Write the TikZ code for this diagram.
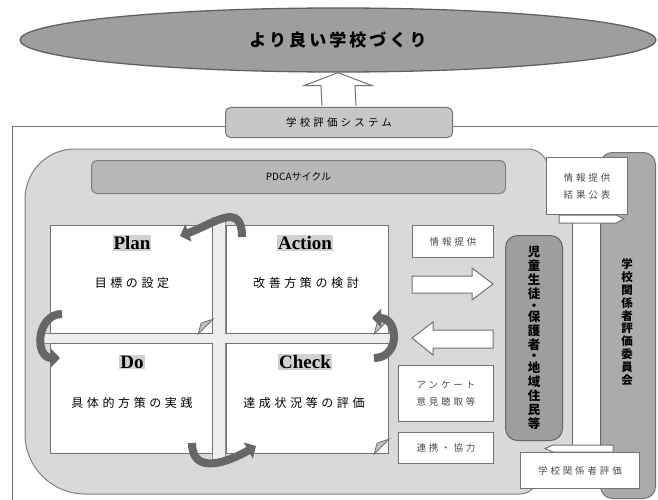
\documentclass[tikz,border=0pt]{standalone}
\usepackage{fontspec}
\setmainfont{Liberation Serif}
\newfontfamily\jp{Noto Sans CJK JP}
\newfontfamily\jpA[LetterSpace=18]{Noto Sans CJK JP}
\newfontfamily\jpB[LetterSpace=30]{Noto Sans CJK JP}
\usetikzlibrary{arrows.meta,calc,shapes.geometric}
\begin{document}
\begin{tikzpicture}[x=1pt,y=1pt,
  qbox/.style={draw=black!55, line width=1.1pt, fill=white, minimum width=162, minimum height=108, anchor=north west, inner sep=0},
  sbox/.style={draw=black!55, line width=1pt, fill=white, anchor=north west, inner sep=0, font=\jpB\fontsize{9.5}{17}\selectfont, text=black!70, align=center},
  elabel/.style={fill=black!18, inner sep=1pt, font=\bfseries\fontsize{19}{20}\selectfont},
  jlabel/.style={font=\jpB\fontsize{12}{14}\selectfont},
  hollow/.style={draw=black!55, line width=1pt, fill=white, line join=miter},
  cyc/.style={draw=black!60, line width=8pt, -{Triangle[length=9pt,width=18pt]}},
  fold/.style={draw=black!55, fill=black!25, line width=0.8pt},
]
\useasboundingbox (0,0) rectangle (658,-500);
% goal ellipse
\node[ellipse, draw=black!62, fill=black!38, line width=1.3pt, minimum width=636, minimum height=64, inner sep=0,
  font=\jpA\bfseries\fontsize{17}{20}\selectfont] (goal) at (338,-40) {より良い学校づくり};
% outer frame
\draw[draw=black!55, line width=1pt] (12,-127) rectangle (690,-530);
% big region
\draw[draw=black!50, line width=1pt, fill=black!15]
  (75,-149) -- (528,-149) to[out=0,in=90] (548,-169) -- (548,-200) -- (610,-200) -- (610,-470)
  -- (540,-470) to[out=-90,in=0] (520,-494) -- (85,-494) to[out=180,in=-90] (25,-434)
  -- (25,-199) to[out=90,in=180] (75,-149);
% system box
\node[draw=black!55, line width=1pt, fill=black!22, rounded corners=5, minimum width=227, minimum height=30,
  anchor=north west, inner sep=0, font=\jpB\fontsize{10.5}{12}\selectfont] (sys) at (225,-107) {学校評価システム};
\path (sys.north) coordinate (ua0) (goal.south) coordinate (ua1);
\draw[hollow] ($(ua0)+(-17,1)$) -- ($(ua1)+(-17,-13)$) -- ($(ua1)+(-34,-13)$) -- (ua1)
  -- ($(ua1)+(34,-13)$) -- ($(ua1)+(17,-13)$) -- ($(ua0)+(17,1)$);
% PDCA box
\node[draw=black!50, line width=1pt, fill=black!28, rounded corners=6, minimum width=414, minimum height=33,
  anchor=north west, inner sep=0, font=\jp\fontsize{10}{12}\selectfont] (pdca) at (91,-160) {PDCAサイクル};
% cross
\draw[draw=black!45, line width=0.9pt, fill=black!7]
  (212,-217) -- (225,-217) -- (225,-333) -- (394,-333) -- (394,-343) -- (225,-343) -- (225,-463)
  -- (212,-463) -- (212,-343) -- (40,-343) -- (40,-333) -- (212,-333) -- cycle;
% quadrants
\node[qbox] (plan) at (50,-225) {};
\node[qbox] (act) at (226,-225) {};
\node[qbox, minimum height=110] (do) at (50,-343) {};
\node[qbox, minimum height=110] (chk) at (226,-343) {};
\draw[fold] ($(plan.south east)+(-15,0)$) -- ($(plan.south east)+(0,15)$) -- ($(plan.south east)+(-12,11)$) -- cycle;
\draw[fold] ($(act.south east)+(-15,0)$) -- ($(act.south east)+(0,15)$) -- ($(act.south east)+(-12,11)$) -- cycle;
\draw[fold] ($(chk.south east)+(-15,0)$) -- ($(chk.south east)+(0,15)$) -- ($(chk.south east)+(-12,11)$) -- cycle;
\node[elabel] (planL) at (132,-243) {Plan};
\node[jlabel] (planJ) at (132,-283) {目標の設定};
\node[elabel] (actL) at (305,-243) {Action};
\node[jlabel] (actJ) at (306,-283) {改善方策の検討};
\node[elabel] (doL) at (132,-362) {Do};
\node[jlabel] (doJ) at (132,-403) {具体的方策の実践};
\node[elabel] (chkL) at (305,-362) {Check};
\node[jlabel] (chkJ) at (304,-403) {達成状況等の評価};
% cycle arrows
\coordinate (a1) at (242,-237); \coordinate (a2) at (180,-236);
\coordinate (b1) at (62,-314);  \coordinate (b2) at (60,-358);
\coordinate (d1) at (192,-443); \coordinate (d2) at (256,-446);
\coordinate (c1) at (374,-358); \coordinate (c2) at (372,-318);
\draw[cyc] (a1) to[out=90,in=20,looseness=1.5] (a2);
\draw[cyc] (b1) to[out=180,in=180,looseness=1.5] (b2);
\draw[cyc] (d1) to[out=-90,in=-150,looseness=1.3] (d2);
\draw[cyc] (c1) to[out=0,in=0,looseness=1.7] (c2);
% middle column
\node[sbox, minimum width=81, minimum height=32] (info) at (412,-225) {情報提供};
\draw[hollow] (412,-276) -- (472,-276) -- (472,-268) -- (493,-284) -- (472,-300) -- (472,-293) -- (412,-293) -- cycle;
\draw[hollow] (493,-330) -- (433,-330) -- (433,-322) -- (412,-338) -- (433,-355) -- (433,-348) -- (493,-348) -- cycle;
\node[sbox, minimum width=95, minimum height=56] (enq) at (398,-365) {アンケート\\意見聴取等};
\node[sbox, minimum width=95, minimum height=31] (coop) at (398,-432) {連携・協力};
% right column
\node[draw=black!55, line width=1pt, fill=black!33, rounded corners=12, minimum width=55, minimum height=346,
  anchor=north west, inner sep=0] (comm) at (600,-152) {};
\node[align=center, inner sep=0, font=\jp\bfseries\fontsize{11.5}{12.8}\selectfont] (commT) at (627,-322)
  {学\\校\\関\\係\\者\\評\\価\\委\\員\\会};
\draw[draw=black!60, line width=1pt, fill=white] (572,-222) rectangle (600,-446);
\draw[hollow] (559,-215) -- (616,-215) -- (624,-219) -- (616,-223) -- (559,-223) -- cycle;
\draw[hollow] (613,-445) -- (553,-445) -- (545,-448.5) -- (553,-452) -- (613,-452) -- cycle;
\node[sbox, minimum width=81, minimum height=57] (pub) at (546,-157) {情報提供\\結果公表};
\node[sbox, minimum width=119, minimum height=36] (eval) at (520,-452) {学校関係者評価};
\node[draw=black!60, line width=1pt, fill=black!38, rounded corners=12, minimum width=57, minimum height=205,
  anchor=north west, inner sep=0] (kids) at (505,-235) {};
\node[align=center, inner sep=0, font=\jp\bfseries\fontsize{12.5}{14.2}\selectfont] (kidsT) at (kids.center)
  {児\\童\\生\\徒\\[-3pt]・\\[-3pt]保\\護\\者\\[-3pt]・\\[-3pt]地\\域\\住\\民\\等};
\end{tikzpicture}
\end{document}
